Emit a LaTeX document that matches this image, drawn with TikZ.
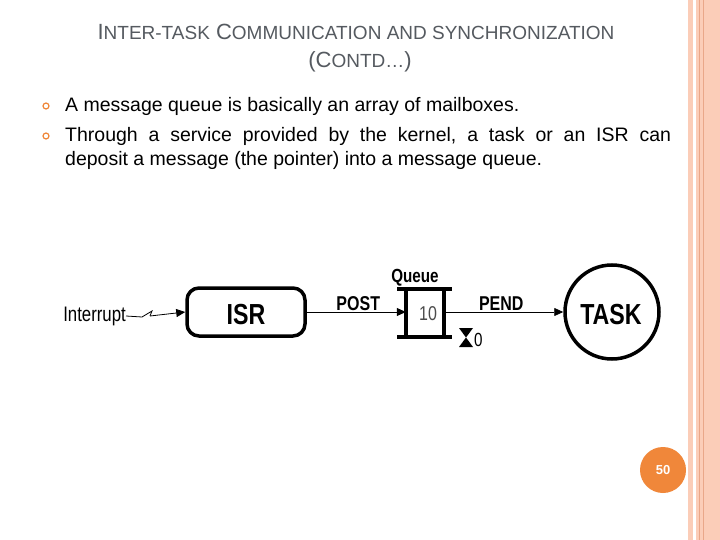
\documentclass[tikz,border=0pt]{standalone}
\usepackage{fontspec}
\setmainfont{Liberation Sans}
\usetikzlibrary{arrows.meta}
\definecolor{ttl}{HTML}{555A60}
\definecolor{salm}{HTML}{FBCDB8}
\definecolor{salmd}{HTML}{E9A789}
\definecolor{orng}{HTML}{F0873A}
\begin{document}
\begin{tikzpicture}[x=1pt,y=-1pt,
  ttlbig/.style={font=\fontsize{22}{22}\selectfont,text=ttl},
  body/.style={font=\fontsize{19.5}{22}\selectfont,anchor=west,inner sep=0},
  bul/.style={circle,draw=orng,line width=1.2pt,minimum size=6pt,inner sep=0},
  dlab/.style={font=\fontsize{21}{21}\selectfont,inner sep=0,xscale=0.8},
  thick4/.style={line width=3.5pt},
  arr/.style={-{Triangle[length=9pt,width=8pt]},line width=0.8pt}]
\useasboundingbox (0,0) rectangle (720,540);
\fill[white] (0,0) rectangle (720,540);
% right border
\fill[salm] (688,0) rectangle (720,540);
\fill[white] (693,0) rectangle (696,540);
\draw[salmd,line width=0.8pt] (699.5,0) -- (699.5,540);
\draw[salmd,line width=0.8pt] (703,0) -- (703,540);
% title
\node[ttlbig,anchor=center] (t1) at (356,32) {I{\fontsize{19}{19}\selectfont NTER-TASK} C{\fontsize{19}{19}\selectfont OMMUNICATION AND SYNCHRONIZATION}};
\node[ttlbig,anchor=center] (t2) at (360,62) {(C{\fontsize{19}{19}\selectfont ONTD…})};
% bullets
\node[bul] (b1) at (46,106) {};
\node[bul] (b2) at (46,136) {};
\node[body] (l1) at (65,106) {A message queue is basically an array of mailboxes.};
\node[body] (l2) at (65,136) {Through\ \ a\ \ service\ \ provided\ \ by\ \ the\ \ kernel,\ \ a\ \ task\ \ or\ \ an\ \ ISR\ \ can};
\node[body] (l3) at (65,160) {deposit a message (the pointer) into a message queue.};
% diagram
\node[dlab,anchor=east] (intr) at (126,316) {Interrupt};
\node[draw,thick4,rounded corners=12pt,minimum width=118pt,minimum height=48pt,inner sep=0] (isr) at (246,312) {};
\node[dlab,font=\fontsize{29}{29}\selectfont\bfseries] (isrt) at (246,315) {ISR};
\coordinate (z1) at (142,317);
\coordinate (z2) at (152,311);
\coordinate (z3) at (150,316);
\draw[line width=0.8pt] (intr.east) -- (z1) -- (z2) -- (z3);
\draw[arr] (z3) -- (isr.west);
% queue
\coordinate (qtl) at (397,289);
\coordinate (qtr) at (452,289);
\coordinate (qbl) at (397,337);
\coordinate (qbr) at (452,337);
\draw[thick4] (qtl) -- (qtr);
\draw[thick4] (qbl) -- (qbr);
\draw[thick4] (406,289) -- (406,337);
\draw[thick4] (444,289) -- (444,337);
\node[inner sep=0,minimum width=38pt,minimum height=46pt] (q) at (425,313) {};
\node[dlab,font=\fontsize{20}{20}\selectfont,text=black!70] (qn) at (428,314) {10};
\node[dlab,font=\fontsize{19}{19}\selectfont\bfseries] (ql) at (415,278) {Queue};
\draw[arr] (isr.east) -- (q.west |- isr.east) node[dlab,above,pos=0.52,yshift=1pt,font=\fontsize{20}{20}\selectfont\bfseries] (post) {POST};
\node[draw,thick4,circle,minimum size=94pt,inner sep=0] (task) at (612,312) {};
\node[dlab,font=\fontsize{29}{29}\selectfont\bfseries] (taskt) at (611,315) {TASK};
\draw[arr] (444,312) -- (task.west) node[dlab,above,pos=0.48,yshift=1pt,font=\fontsize{20}{20}\selectfont\bfseries] (pend) {PEND};
% hourglass
\fill (459,328) -- (473,328) -- (459,347) -- (473,347) -- cycle;
\node[dlab,font=\fontsize{19}{19}\selectfont,anchor=west] (zero) at (474,340) {0};
% page number
\node[circle,fill=orng,minimum size=46pt,inner sep=0,text=white,font=\fontsize{13}{13}\selectfont\bfseries] (pg) at (663,470) {50};
\end{tikzpicture}
\end{document}
